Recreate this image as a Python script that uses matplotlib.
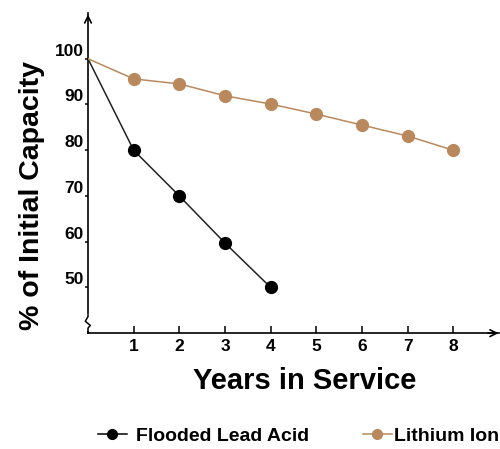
import matplotlib.pyplot as plt

plt.rcParams['font.family'] = ['Liberation Sans', 'DejaVu Sans']

# data
years_lead = [0, 1, 2, 3, 4]
lead_acid = [100, 80, 70, 59.7, 50]
years_li = [0, 1, 2, 3, 4, 5, 6, 7, 8]
lithium = [100, 95.6, 94.5, 91.9, 90.1, 87.9, 85.5, 83.1, 80]
xticks = [1, 2, 3, 4, 5, 6, 7, 8]
yticks = [50, 60, 70, 80, 90, 100]

tan = '#b9895d'

fig = plt.figure(figsize=(5, 4.49), dpi=100)
ax = fig.add_axes([0.176, 0.258, 0.822, 0.713])

# lines start at 100 with no marker at year 0
ax.plot(years_lead, lead_acid, color='#222222', lw=1.1, zorder=3)
ax.plot(years_lead[1:], lead_acid[1:], 'o', color='black', ms=8.5, zorder=4)
ax.plot(years_li, lithium, color=tan, lw=1.1, zorder=3)
ax.plot(years_li[1:], lithium[1:], 'o', color=tan, ms=8.5, zorder=4)

ax.set_xlim(0, 9)
ax.set_ylim(40, 110)

for s in ['top', 'right']:
    ax.spines[s].set_visible(False)
ax.spines['left'].set_linewidth(1.2)
ax.spines['bottom'].set_linewidth(1.2)

# arrow heads on axes
ax.annotate('', xy=(0, 110.3), xytext=(0, 108), xycoords='data',
            arrowprops=dict(arrowstyle='->', lw=1.2, color='black',
                            mutation_scale=12), annotation_clip=False)
ax.annotate('', xy=(9.05, 40), xytext=(8.7, 40),
            arrowprops=dict(arrowstyle='->', lw=1.2, color='black',
                            mutation_scale=12), annotation_clip=False)

# axis break zigzag
ax.plot([0, 0], [41, 43.8], color='white', lw=3, clip_on=False, zorder=5)
ax.plot([0, 0.0, -0.06, 0.05, 0.0, 0.0], [44, 43.6, 42.6, 41.7, 41.1, 40],
        color='black', lw=1.1, clip_on=False, zorder=6)

ax.set_xticks(xticks)
ax.set_yticks(yticks)
ax.tick_params(axis='x', direction='in', length=5, width=1.1, pad=4,
               labelsize=12.5)
ax.tick_params(axis='y', direction='out', length=2, width=1.1, pad=1,
               labelsize=12.5)
for lab in ax.get_xticklabels() + ax.get_yticklabels():
    lab.set_fontweight('bold')
for lab in ax.get_yticklabels():
    lab.set_verticalalignment('bottom')

ax.set_xlabel('Years in Service', fontsize=21, fontweight='bold')
ax.xaxis.set_label_coords(0.527, -0.105)
ax.set_ylabel('% of Initial Capacity', fontsize=20.5, fontweight='bold')
ax.yaxis.set_label_coords(-0.105, 0.43)

h1, = ax.plot([], [], '-o', color='black', lw=1.1, ms=7)
h2, = ax.plot([], [], '-o', color=tan, lw=1.1, ms=7)
leg1 = fig.legend([h1], ['Flooded Lead Acid'], loc='center left',
                  bbox_to_anchor=(0.195, 0.029), frameon=False,
                  prop={'weight': 'bold', 'size': 14}, handlelength=1.5,
                  handletextpad=0.5, borderpad=0, borderaxespad=0)
leg2 = fig.legend([h2], ['Lithium Ion'], loc='center left',
                  bbox_to_anchor=(0.725, 0.029), frameon=False,
                  prop={'weight': 'bold', 'size': 14}, handlelength=1.5,
                  handletextpad=0.1, borderpad=0, borderaxespad=0)

fig.savefig('out.png', dpi=100)
